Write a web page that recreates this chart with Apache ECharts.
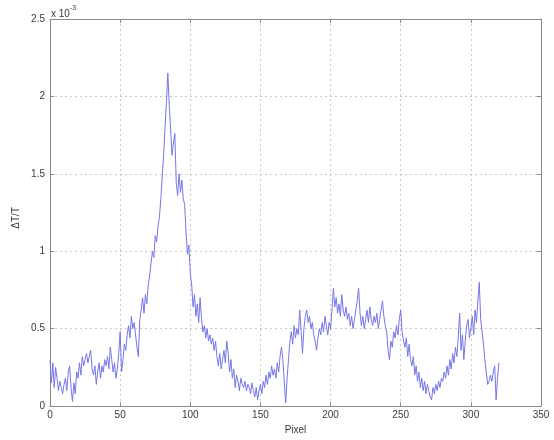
<!DOCTYPE html>
<html>
<head>
<meta charset="utf-8">
<script src="https://cdn.jsdelivr.net/npm/echarts@6/dist/echarts.min.js"></script>
<style>
  html, body { margin: 0; padding: 0; background: #fff; }
  #chart { width: 554px; height: 440px; }
</style>
</head>
<body>
<div id="chart"></div>
<script>
// Relative transmission change ΔT/T (in units of 1e-3) per pixel, pixels 0..320
const pixelStart = 0;
const dT = [
  0.30, 0.15, 0.28, 0.12, 0.25, 0.18, 0.10, 0.16, 0.12, 0.08,
  0.14, 0.18, 0.10, 0.22, 0.26, 0.12, 0.03, 0.15, 0.08, 0.22,
  0.18, 0.28, 0.20, 0.32, 0.26, 0.30, 0.34, 0.28, 0.32, 0.36,
  0.24, 0.20, 0.26, 0.14, 0.22, 0.28, 0.18, 0.26, 0.22, 0.30,
  0.26, 0.32, 0.24, 0.38, 0.30, 0.22, 0.28, 0.18, 0.24, 0.34,
  0.48, 0.22, 0.30, 0.40, 0.36, 0.46, 0.52, 0.44, 0.58, 0.50,
  0.54, 0.46, 0.38, 0.32, 0.56, 0.62, 0.70, 0.60, 0.72, 0.66,
  0.78, 0.84, 0.92, 1.00, 0.96, 1.10, 1.06, 1.16, 1.22, 1.34,
  1.48, 1.62, 1.80, 1.96, 2.15, 1.94, 1.78, 1.62, 1.70, 1.76,
  1.44, 1.36, 1.50, 1.38, 1.46, 1.34, 1.30, 1.12, 0.98, 1.04,
  0.86, 0.78, 0.64, 0.72, 0.58, 0.66, 0.54, 0.70, 0.56, 0.48,
  0.52, 0.44, 0.50, 0.42, 0.46, 0.40, 0.44, 0.36, 0.42, 0.32,
  0.26, 0.34, 0.24, 0.30, 0.36, 0.28, 0.42, 0.34, 0.22, 0.30,
  0.18, 0.24, 0.12, 0.20, 0.16, 0.10, 0.18, 0.14, 0.12, 0.16,
  0.10, 0.14, 0.12, 0.08, 0.15, 0.10, 0.06, 0.12, 0.04, 0.10,
  0.14, 0.08, 0.16, 0.12, 0.20, 0.14, 0.22, 0.18, 0.26, 0.20,
  0.24, 0.18, 0.28, 0.22, 0.32, 0.38, 0.30, 0.16, 0.02, 0.18,
  0.30, 0.42, 0.48, 0.40, 0.52, 0.44, 0.50, 0.46, 0.62, 0.48,
  0.34, 0.50, 0.58, 0.62, 0.54, 0.58, 0.50, 0.54, 0.46, 0.42,
  0.36, 0.44, 0.50, 0.46, 0.54, 0.48, 0.58, 0.52, 0.46, 0.54,
  0.50, 0.62, 0.76, 0.64, 0.70, 0.60, 0.66, 0.58, 0.72, 0.62,
  0.58, 0.64, 0.56, 0.60, 0.52, 0.58, 0.50, 0.56, 0.62, 0.68,
  0.76, 0.60, 0.52, 0.58, 0.50, 0.56, 0.62, 0.54, 0.64, 0.56,
  0.52, 0.58, 0.54, 0.60, 0.50, 0.56, 0.62, 0.68, 0.58, 0.52,
  0.48, 0.36, 0.30, 0.42, 0.38, 0.48, 0.44, 0.52, 0.46, 0.56,
  0.62, 0.48, 0.42, 0.38, 0.44, 0.32, 0.40, 0.30, 0.26, 0.32,
  0.20, 0.26, 0.16, 0.22, 0.12, 0.18, 0.10, 0.16, 0.08, 0.14,
  0.10, 0.06, 0.04, 0.12, 0.08, 0.14, 0.10, 0.16, 0.12, 0.18,
  0.16, 0.22, 0.18, 0.26, 0.20, 0.30, 0.24, 0.34, 0.28, 0.38,
  0.32, 0.44, 0.60, 0.36, 0.46, 0.30, 0.42, 0.52, 0.56, 0.44,
  0.50, 0.58, 0.46, 0.62, 0.54, 0.68, 0.80, 0.56, 0.48, 0.40,
  0.30, 0.22, 0.14, 0.16, 0.20, 0.16, 0.22, 0.26, 0.04, 0.18,
  0.28
];
const xTicks = [0, 50, 100, 150, 200, 250, 300, 350];
const yTicks = [0, 0.5, 1, 1.5, 2, 2.5];

const points = dT.map((v, i) => [pixelStart + i, v]);

const textColor = '#3a3a3a';
const font = 'Liberation Sans, Arial, sans-serif';
const frameColor = '#8a8a8a';
const gridColor = '#c8c8c8';

const chart = echarts.init(document.getElementById('chart'), null, { renderer: 'canvas' });

const axisBase = {
  type: 'value',
  axisLine: { show: true, onZero: false, lineStyle: { color: frameColor, width: 1 } },
  axisTick: { show: true, inside: true, length: 4, lineStyle: { color: frameColor } },
  splitLine: { show: false }
};

chart.setOption({
  animation: false,
  backgroundColor: '#fff',
  grid: { left: 50, right: 13, top: 19, bottom: 32, show: false },
  xAxis: [
    Object.assign({}, axisBase, {
      min: xTicks[0], max: xTicks[xTicks.length - 1], interval: 50,
      position: 'bottom',
      name: 'Pixel', nameLocation: 'middle', nameGap: 17,
      nameTextStyle: { color: textColor, fontSize: 10, fontFamily: font },
      axisLabel: { color: textColor, fontSize: 10, fontFamily: font, margin: 4 },
      splitLine: { show: true, lineStyle: { color: gridColor, type: [2, 3], width: 1 } }
    }),
    Object.assign({}, axisBase, {
      min: xTicks[0], max: xTicks[xTicks.length - 1], interval: 50,
      position: 'top',
      axisLabel: { show: false }
    })
  ],
  yAxis: [
    Object.assign({}, axisBase, {
      min: yTicks[0], max: yTicks[yTicks.length - 1], interval: 0.5,
      position: 'left',
      axisLabel: { color: textColor, fontSize: 10, fontFamily: font, margin: 5 },
      splitLine: { show: true, lineStyle: { color: gridColor, type: [2, 3], width: 1 } }
    }),
    Object.assign({}, axisBase, {
      min: yTicks[0], max: yTicks[yTicks.length - 1], interval: 0.5,
      position: 'right',
      axisLabel: { show: false }
    })
  ],
  graphic: [
    {
      type: 'text', left: 11, top: 207, rotation: Math.PI / 2,
      style: { text: 'ΔT/T', fill: textColor, fontSize: 10, fontFamily: font }
    },
    {
      type: 'text', left: 51, top: 5,
      style: {
        text: '{b|x 10}{s|-3}',
        rich: {
          b: { fill: textColor, fontSize: 10, fontFamily: font, padding: [4, 0, 0, 0] },
          s: { fill: textColor, fontSize: 7, fontFamily: font, verticalAlign: 'top' }
        }
      }
    }
  ],
  series: [{
    type: 'line',
    data: points,
    xAxisIndex: 0,
    yAxisIndex: 0,
    showSymbol: false,
    lineStyle: { color: '#7676e8', width: 1 },
    z: 3
  }]
});
</script>
</body>
</html>
